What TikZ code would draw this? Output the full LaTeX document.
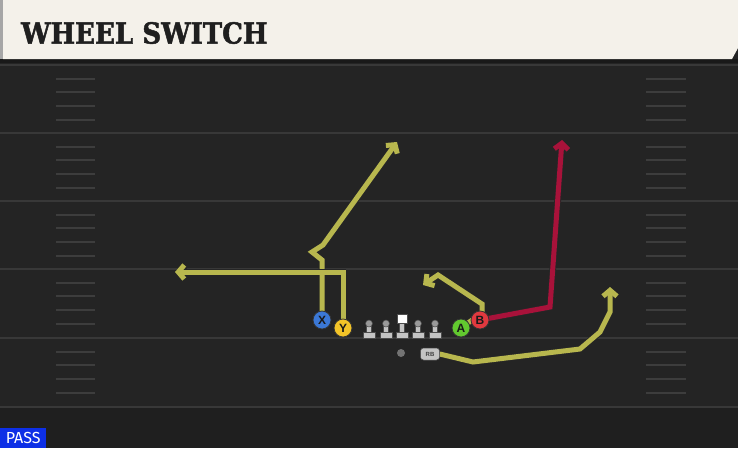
\documentclass[tikz,border=0pt]{standalone}
\usepackage{fontspec}
\setmainfont{DejaVu Serif}
\setsansfont{Liberation Sans}
\newfontfamily\titlefont[BoldFeatures={FakeBold=1.6}]{DejaVu Serif Condensed}
\newfontfamily\tagfont{Fira Sans}
\usetikzlibrary{arrows.meta, positioning}

\definecolor{fieldbg}{HTML}{242424}
\definecolor{endbg}{HTML}{1F1F1F}
\definecolor{yardline}{HTML}{383838}
\definecolor{hashline}{HTML}{3D3D3D}
\definecolor{cream}{HTML}{F4F1EA}
\definecolor{routeyel}{HTML}{B8B74E}
\definecolor{routered}{HTML}{A8123A}
\definecolor{xblue}{HTML}{3B78D6}
\definecolor{yyel}{HTML}{F3C428}
\definecolor{agreen}{HTML}{62C92F}
\definecolor{bred}{HTML}{E0393F}
\definecolor{olgray}{HTML}{C4C4C4}
\definecolor{passblue}{HTML}{0D2FE6}

\pgfdeclarelayer{field}
\pgfdeclarelayer{routes}
\pgfsetlayers{field,routes,main}

\tikzset{
  lineman/.pic={
    \fill[olgray, draw=black!70, line width=0.5pt] (-6,338) rectangle (6,332);
    \fill[olgray, draw=black!70, line width=0.5pt] (-2.5,332) rectangle (2.5,324);
    \fill[black!40, draw=black!70, line width=0.5pt] (0,323.5) circle (3.5);
  }
}

\begin{document}
\begin{tikzpicture}[x=1pt, y=-1pt, >=Latex,
    route/.style={line width=5pt, color=routeyel, line join=miter,
      -{Straight Barb[length=6pt, width=14pt]},
      preaction={draw=black!85, line width=6.8pt}},
    hot/.style={route, color=routered},
    player/.style={circle, draw=black!80, line width=0.8pt, minimum size=18pt, inner sep=0pt,
      font=\sffamily\bfseries\fontsize{12}{12}\selectfont, text=black!90},
    hash/.style={draw=hashline, line width=1.6pt}]

    \useasboundingbox (0,0) rectangle (738,448);

    % field
    \begin{pgfonlayer}{field}
    \fill[fieldbg] (0,0) rectangle (738,448);
    \fill[endbg] (0,407) rectangle (738,448);
    \foreach \y in {65,133,201,269,338,407}
        \draw[yardline, line width=2pt] (0,\y) -- (738,\y);
    \foreach \y in {65,133,201,269,338}
      \foreach \d in {14,27,41,55} {
        \draw[hash] (56,\y+\d) -- (95,\y+\d);
        \draw[hash] (646,\y+\d) -- (686,\y+\d);
      }
    \end{pgfonlayer}

    % title bar
    \fill[black!90] (0,59) rectangle (738,63);
    \fill[black!35] (0,0) rectangle (3,59);
    \fill[cream] (3,0) -- (738,0) -- (738,48) -- (732,59) -- (3,59) -- cycle;
    \node (title) [anchor=west, text=black!88, inner sep=0pt,
        font=\titlefont\bfseries\fontsize{29}{29}\selectfont] at (21,33) {WHEEL SWITCH};

    % line
    \pic at (369,0) {lineman};
    \pic at (386,0) {lineman};
    \pic at (418,0) {lineman};
    \pic at (435,0) {lineman};
    \fill[olgray, draw=black!70, line width=0.5pt] (396,338) rectangle (408,332);
    \fill[olgray, draw=black!70, line width=0.5pt] (399.5,332) rectangle (404.5,323);
    \fill[white, draw=black!70, line width=0.5pt] (397,314) rectangle (407,323);

    % players
    \node (xr) [player, fill=xblue] at (322,320) {X};
    \node (yr) [player, fill=yyel] at (343,328) {Y};
    \node (ar) [player, fill=agreen] at (461,328) {A};
    \node (br) [player, fill=bred] at (480,320) {B};
    \node (qb) [circle, fill=black!55, minimum size=8pt, inner sep=0pt] at (401,353) {};
    \node (rb) [rectangle, rounded corners=3pt, fill=olgray, draw=black!70, line width=0.5pt,
        minimum width=19pt, minimum height=12pt, inner sep=0pt, text=black!75,
        font=\sffamily\bfseries\fontsize{6}{6}\selectfont] at (430,354) {RB};

    \coordinate (xbreak) at (322,260);
    \coordinate (ybreak) at (343,272);
    \coordinate (bbreak) at (550,307);
    \coordinate (abreak) at (482,304);

    % routes
    \begin{pgfonlayer}{routes}
    \draw [route] (xr.center) -- (xbreak) -- (312,252) -- (323,245) -- (397,142);
    \draw [route] (yr.center) -- (ybreak) -- (175,272);
    \draw [route] (ar.center) -- (482,313) -- (abreak) -- (438,275) -- (423,285);
    \draw [hot] (br.center) -- (bbreak) -- (562,140);
    \draw [route] (rb.east) -- (473,362) -- (580,349) -- (600,332) -- (610,312) -- (610,287);
    \end{pgfonlayer}

    % play type
    \node (tag) [anchor=south west, fill=passblue, text=white, inner sep=0pt,
        minimum width=46pt, minimum height=20pt,
        font=\tagfont\fontsize{16}{16}\selectfont] at (0,448) {PASS};

\end{tikzpicture}
\end{document}
